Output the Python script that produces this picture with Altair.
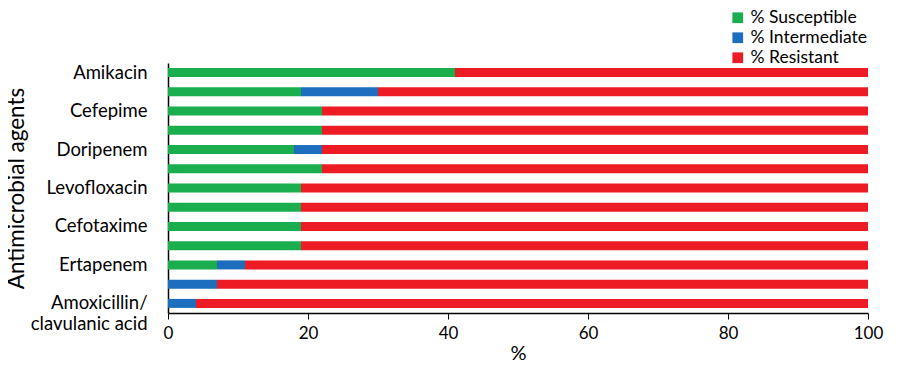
import altair as alt
import pandas as pd

labels = ["Amikacin", "", "Cefepime", "", "Doripenem", "", "Levofloxacin", "",
          "Cefotaxime", "", "Ertapenem", "", "Amoxicillin/|clavulanic acid"]
susceptible = [41, 19, 22, 22, 18, 22, 19, 19, 19, 19, 7, 0, 0]
intermediate = [0, 11, 0, 0, 4, 0, 0, 0, 0, 0, 4, 7, 4]
resistant = [59, 70, 78, 78, 78, 78, 81, 81, 81, 81, 89, 93, 96]
series = ["% Susceptible", "% Intermediate", "% Resistant"]
colors = ["#1AAE4E", "#1D6EBE", "#ED1C24"]

rows = []
for i in range(len(labels)):
    for k, (name, vals) in enumerate(zip(series, [susceptible, intermediate, resistant])):
        rows.append({"row": i, "status": name, "order": k, "value": vals[i]})
df = pd.DataFrame(rows)

label_arr = "[" + ",".join("'" + l + "'" for l in labels) + "]"
font = "Lato"

chart = alt.Chart(df).mark_bar(size=9).encode(
    y=alt.Y("row:O", sort="ascending",
            axis=alt.Axis(title="Antimicrobial agents", labelExpr="split(" + label_arr + "[datum.value], '|')",
                          ticks=False, domain=True, domainColor="#000", domainWidth=1.5,
                          labelFontSize=18.5, labelFont=font, labelColor="#000", labelPadding=21,
                          labelLineHeight=21,
                          titleFontSize=22.5, titleFont=font, titleFontWeight="normal", titleColor="#000",
                          titleX=-145, titleY=125, titleBaseline="alphabetic", titleAlign="center",
                          titleAngle=270)),
    x=alt.X("value:Q", stack="zero", scale=alt.Scale(domain=[0, 100], nice=False),
            axis=alt.Axis(title="%", values=[0, 20, 40, 60, 80, 100], grid=False, labelFlush=False,
                          domainColor="#000", domainWidth=1.5, tickColor="#000", tickSize=6,
                          labelFontSize=17, labelFont=font, labelColor="#000", labelPadding=6,
                          titleFontSize=20, titleFont=font, titleFontWeight="normal", titleColor="#000",
                          titlePadding=2)),
    color=alt.Color("status:N", scale=alt.Scale(domain=series, range=colors),
                    legend=alt.Legend(title=None, orient="none", legendX=561, legendY=-54,
                                      symbolType="square", symbolSize=115, symbolStrokeWidth=0,
                                      labelFontSize=17.5, labelFont=font, labelColor="#000",
                                      labelOffset=4, rowPadding=1)),
    order=alt.Order("order:Q"),
).properties(
    width=700, height=250,
    autosize="none",
    padding={"left": 160, "top": 55, "right": 24, "bottom": 51},
).configure_view(stroke=None)

chart.save("out.html", embed_options={"renderer": "svg", "actions": False})
